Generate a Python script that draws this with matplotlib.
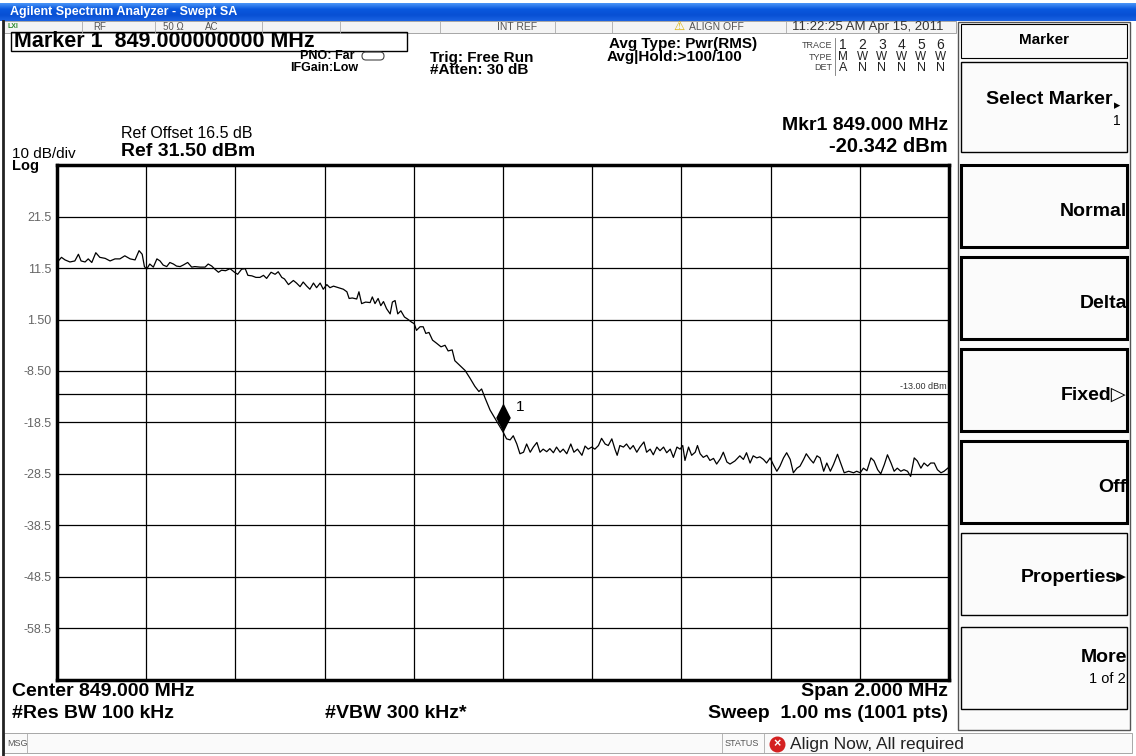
import numpy as np
import matplotlib
matplotlib.use("Agg")
import matplotlib.pyplot as plt
from matplotlib.patches import Rectangle, FancyBboxPatch
from matplotlib.path import Path
from matplotlib.colors import LinearSegmentedColormap

plt.rcParams['font.family'] = ['Liberation Sans', 'DejaVu Sans']

# analyzer settings
start_mhz = 848.0
stop_mhz = 850.0
ref_level = 31.5
db_per_div = 10
display_line = -13.0
marker_freq = 849.0
marker_level = -20.342

# trace: offset from start (kHz) and level (dBm)
offset_khz = [0, 3, 10, 18, 29, 40, 48, 54, 63, 70, 78, 87, 96, 108, 119, 130, 141, 152, 164, 175,
              184, 191, 196, 201, 208, 216, 224, 231, 238, 246, 253, 261, 268, 276, 283, 293, 302,
              309, 321, 332, 339, 347, 354, 362, 369, 378, 388, 398, 405, 414, 422, 428, 437, 446,
              455, 463, 470, 480, 489, 496, 504, 510, 519, 530, 537, 545, 552, 560, 567, 575, 582,
              590, 597, 605, 612, 620, 631, 642, 650, 655, 662, 672, 677, 683, 692, 702, 707, 713,
              720, 726, 732, 739, 747, 752, 758, 764, 771, 779, 786, 795, 801, 806, 814, 821, 827,
              834, 842, 851, 861, 870, 877, 886, 892, 904, 915, 926, 937, 946, 952, 960, 971, 982,
              1000, 1008, 1016, 1023, 1031, 1038, 1046, 1053, 1061, 1068, 1076, 1083, 1090, 1098,
              1105, 1113, 1120, 1128, 1135, 1143, 1152, 1159, 1167, 1177, 1184, 1191, 1199, 1206,
              1214, 1221, 1229, 1236, 1244, 1251, 1256, 1262, 1270, 1277, 1285, 1292, 1300, 1307,
              1316, 1322, 1330, 1337, 1345, 1352, 1360, 1367, 1375, 1382, 1390, 1397, 1403, 1408,
              1416, 1423, 1431, 1436, 1442, 1449, 1457, 1464, 1472, 1479, 1487, 1494, 1502, 1509,
              1520, 1531, 1539, 1546, 1554, 1561, 1569, 1576, 1584, 1591, 1599, 1606, 1614, 1621,
              1629, 1636, 1644, 1651, 1659, 1666, 1674, 1680, 1689, 1696, 1704, 1711, 1719, 1726,
              1734, 1741, 1750, 1757, 1765, 1775, 1786, 1793, 1801, 1808, 1816, 1825, 1832, 1840,
              1847, 1855, 1862, 1870, 1877, 1884, 1892, 1899, 1907, 1914, 1922, 1929, 1937, 1944,
              1952, 1959, 1967, 1974, 1982, 1989, 1997, 2000]
level_dbm = [12.5, 12.9, 13.6, 13.1, 12.7, 12.9, 14.2, 12.9, 12.7, 13.3, 12.6, 14.5, 13.6, 13.4, 12.9,
             13.3, 13.3, 13.9, 13.3, 13.1, 14.9, 14.2, 11.8, 11.3, 12.3, 11.7, 13.3, 12.9, 12.1, 11.8,
             12.6, 12.3, 11.9, 11.8, 12.1, 12.6, 11.7, 11.8, 11.7, 11.7, 12.3, 11.9, 11.3, 10.7, 11.1,
             11.0, 11.4, 10.7, 10.3, 11.3, 11.4, 10.1, 10.0, 9.7, 9.7, 10.1, 9.5, 10.7, 10.3, 10.8,
             9.7, 9.4, 8.3, 9.1, 8.6, 7.9, 8.8, 8.0, 7.4, 8.6, 7.7, 8.6, 7.4, 8.3, 7.7, 8.0, 7.7, 7.4,
             6.9, 5.6, 5.7, 5.5, 6.9, 4.6, 4.9, 4.8, 5.9, 4.6, 5.6, 4.2, 5.0, 3.6, 2.6, 4.9, 5.2, 2.6,
             3.2, 2.0, 1.6, 1.0, 0.7, -0.6, 0.1, 0.1, -1.2, -1.0, -2.5, -3.1, -3.8, -3.5, -4.6, -4.4,
             -6.5, -7.5, -8.4, -9.9, -11.5, -12.5, -12.0, -13.8, -16.1, -17.7,
             -20.342, -21.7, -21.9, -21.1, -22.7, -24.6, -24.3, -22.7, -24.3, -23.3, -22.4, -24.3,
             -23.7, -24.2, -23.6, -24.4, -23.3, -24.3, -23.7, -24.6, -22.7, -24.3, -23.7, -24.9,
             -23.1, -23.7, -23.3, -23.7, -23.0, -21.6, -22.7, -23.0, -21.7, -23.7, -24.9, -23.0,
             -23.3, -22.7, -23.7, -23.0, -24.3, -23.3, -22.3, -24.3, -23.7, -24.8, -23.3, -24.0,
             -23.3, -24.4, -23.7, -25.3, -23.3, -23.7, -23.0, -25.9, -23.3, -24.9, -24.3, -23.0,
             -24.6, -25.3, -24.9, -25.9, -25.5, -26.6, -25.6, -24.3, -26.2, -26.6,
             -26.0, -25.0, -25.7, -24.4, -26.4, -25.0, -25.4, -25.2, -25.7, -26.4, -25.4, -26.7,
             -28.0, -27.0, -25.4, -24.4, -25.7, -28.3, -27.4, -27.0, -25.7, -24.6, -25.7, -26.4,
             -25.0, -25.4, -28.0, -26.4, -28.0, -26.7, -24.7, -26.4, -28.3, -28.0, -28.3, -28.0,
             -28.3, -27.4, -27.9, -25.4, -26.0, -27.7, -28.5, -26.7, -24.8, -26.4, -28.0, -27.4,
             -28.0, -27.7, -28.0, -29.0, -25.4, -26.0, -27.4, -26.4, -27.0, -26.4, -26.4, -27.7,
             -28.3, -28.0, -27.4, -27.2]

y_tick_labels = ["21.5", "11.5", "1.50", "-8.50", "-18.5", "-28.5", "-38.5", "-48.5", "-58.5"]

trace_numbers = ["1", "2", "3", "4", "5", "6"]
trace_types = ["M", "W", "W", "W", "W", "W"]
trace_dets = ["A", "N", "N", "N", "N", "N"]

softkey_labels = ["Normal", "Delta", "Fixed\u25B7", "Off", "Properties\u25B8"]
softkey_rows = [212, 304, 395, 488, 578]

W, H = 1136, 756
fig = plt.figure(figsize=(W / 100, H / 100), dpi=100)

# background layer in screen pixels
bg = fig.add_axes([0, 0, 1, 1], zorder=0)

def box(x, y, w, h, lw=1.0, ec='black', fc='none', **kw):
    bg.add_patch(Rectangle((x, y), w, h, lw=lw, ec=ec, fc=fc, **kw))

def txt(x, y, s, size=10, weight='normal', ha='left', color='black', **kw):
    bg.text(x, y, s, fontsize=size, fontweight=weight, ha=ha, va='center', color=color, **kw)

# window title bar
bar = LinearSegmentedColormap.from_list('xp', ['#4a95f7', '#0a58de', '#0850d4', '#1a62e2'])
bg.imshow(np.linspace(0, 1, 40).reshape(-1, 1), cmap=bar, aspect='auto',
          extent=[0, W, 21, 3], origin='upper', zorder=1)
txt(10, 12, "Agilent Spectrum Analyzer - Swept SA", size=9, weight='bold', color='white', zorder=2)
bg.set_xlim(0, W)
bg.set_ylim(H, 0)
bg.axis('off')

# window edge
bg.plot([2.5, 2.5], [21, H], color='#222222', lw=2)

# status strip
box(4, 21, 952, 12, lw=0.6, ec='#999999', fc='#f4f4f4')
for sx in [82, 155, 262, 340, 440, 555, 612, 786]:
    bg.plot([sx, sx], [21, 33], color='#aaaaaa', lw=0.6)
txt(8, 27, "LXI", size=5, weight='bold', color='#2e8b2e')
txt(93, 27, "RF", size=7, color='#555555')
txt(163, 27, "50 \u03A9", size=7, color='#555555')
txt(205, 27, "AC", size=7, color='#555555')
txt(497, 27, "INT REF", size=7.5, color='#555555')
txt(673, 27, "\u26A0", size=9, color='#d8b000')
txt(689, 27, "ALIGN OFF", size=7.5, color='#555555')
txt(792, 27, "11:22:25 AM Apr 15, 2011", size=9.5, color='#333333')

# marker readout line
box(11, 32, 396, 19, lw=1.0)
txt(14, 41.5, "Marker 1  849.000000000 MHz", size=15.5, weight='bold')
txt(300, 56, "PNO: Far", size=9, weight='bold')
bg.add_patch(FancyBboxPatch((362, 52), 22, 8, boxstyle='round,pad=0,rounding_size=4',
                            lw=0.8, ec='#444444', fc='none'))
txt(290, 68, "IFGain:Low", size=9, weight='bold')
txt(430, 58, "Trig: Free Run", size=11, weight='bold')
txt(430, 70, "#Atten: 30 dB", size=11, weight='bold')
txt(609, 44, "Avg Type: Pwr(RMS)", size=11, weight='bold')
txt(607, 57, "Avg|Hold:>100/100", size=11, weight='bold')
txt(832, 45, "TRACE", size=6.5, ha='right', color='#444444')
txt(832, 57, "TYPE", size=6.5, ha='right', color='#444444')
txt(832, 68, "DET", size=6.5, ha='right', color='#444444')
bg.plot([835, 835], [38, 75], color='#777777', lw=0.6)
for i in range(6):
    txt(843 + 19.5 * i, 45, trace_numbers[i], size=10, color='#222222', ha='center')
    txt(843 + 19.5 * i, 57, trace_types[i], size=8.5, color='#222222', ha='center')
    txt(843 + 19.5 * i, 68, trace_dets[i], size=9, color='#222222', ha='center')

txt(948, 125, "Mkr1 849.000 MHz", size=14, weight='bold', ha='right')
txt(948, 147, "-20.342 dBm", size=14.5, weight='bold', ha='right')
txt(121, 133, "Ref Offset 16.5 dB", size=11.5)
txt(121, 151, "Ref 31.50 dBm", size=14, weight='bold')
txt(12, 154, "10 dB/div", size=11)
txt(12, 166, "Log", size=10.5, weight='bold')

# footer
txt(12, 691, "Center 849.000 MHz", size=14, weight='bold')
txt(12, 713, "#Res BW 100 kHz", size=14, weight='bold')
txt(325, 713, "#VBW 300 kHz*", size=14, weight='bold')
txt(948, 691, "Span 2.000 MHz", size=14, weight='bold', ha='right')
txt(948, 713, "Sweep  1.00 ms (1001 pts)", size=14, weight='bold', ha='right')
box(4, 733, 1128, 20, lw=0.6, ec='#999999', fc='#fafafa')
bg.plot([27, 27], [733, 753], color='#aaaaaa', lw=0.6)
bg.plot([722, 722], [733, 753], color='#aaaaaa', lw=0.6)
bg.plot([764, 764], [733, 753], color='#aaaaaa', lw=0.6)
txt(7, 744, "MSG", size=6.5, color='#555555')
txt(725, 744, "STATUS", size=6.5, color='#555555')
bg.scatter([777], [744], s=110, color='#d42020', zorder=3)
txt(777, 744, "\u00D7", size=9, weight='bold', color='white', ha='center', zorder=4)
txt(790, 744, "Align Now, All required", size=12.5, color='#222222')

# softkey panel
box(958, 22, 172, 708, lw=1.0, ec='#555555', fc='#fbfbfb')
box(961, 24, 166, 34, lw=0.8)
txt(1044, 40, "Marker", size=11, weight='bold', ha='center')
box(961, 62, 166, 90, lw=1.0)
txt(1112, 100, "Select Marker", size=14, weight='bold', ha='right')
txt(1114, 106, "\u25B8", size=9, ha='left')
txt(1121, 121, "1", size=10, ha='right')
for i, (lab, yy) in enumerate(zip(softkey_labels, softkey_rows)):
    top = 165 + 92 * i
    box(961, top, 166, 82, lw=2.2 if i < 4 else 1.0)
    txt(1127, yy, lab, size=14, weight='bold', ha='right')
box(961, 627, 166, 82, lw=1.0)
txt(1127, 657, "More", size=14, weight='bold', ha='right')
txt(1126, 679, "1 of 2", size=10.5, ha='right')

# measurement graticule
ax = fig.add_axes([57 / W, 1 - 679.5 / H, 892 / W, 514.2 / H], zorder=2)
ax.set_facecolor('white')
freq_mhz = start_mhz + np.array(offset_khz) / 1000.0
ax.plot(freq_mhz, level_dbm, color='black', lw=0.9, zorder=3)

ax.set_xlim(start_mhz, stop_mhz)
ax.set_ylim(ref_level - 10 * db_per_div, ref_level)
ax.set_xticks(np.linspace(start_mhz, stop_mhz, 11))
ax.set_xticklabels([])
ax.set_yticks(ref_level - db_per_div * np.arange(1, 10))
ax.set_yticklabels(y_tick_labels, fontsize=9, color='#666666')
ax.tick_params(length=0, pad=4)
ax.grid(True, color='black', lw=0.9)
for sp in ax.spines.values():
    sp.set_linewidth(2.5)

ax.axhline(display_line, color='black', lw=0.9)
ax.text(0.997, display_line + 0.6, "-13.00 dBm", transform=ax.get_yaxis_transform(),
        fontsize=6.5, ha='right', va='bottom', color='#333333')

diamond = Path([(0, 0), (0.5, 1), (0, 2), (-0.5, 1), (0, 0)],
               [Path.MOVETO, Path.LINETO, Path.LINETO, Path.LINETO, Path.CLOSEPOLY])
ax.plot([marker_freq], [marker_level], marker=diamond, markersize=42, color='black',
        markeredgewidth=0, zorder=4)
ax.annotate("1", xy=(marker_freq, marker_level), xytext=(9, 18), textcoords='offset points',
            fontsize=11, ha='left', va='center')

fig.savefig("out.png", dpi=100)
